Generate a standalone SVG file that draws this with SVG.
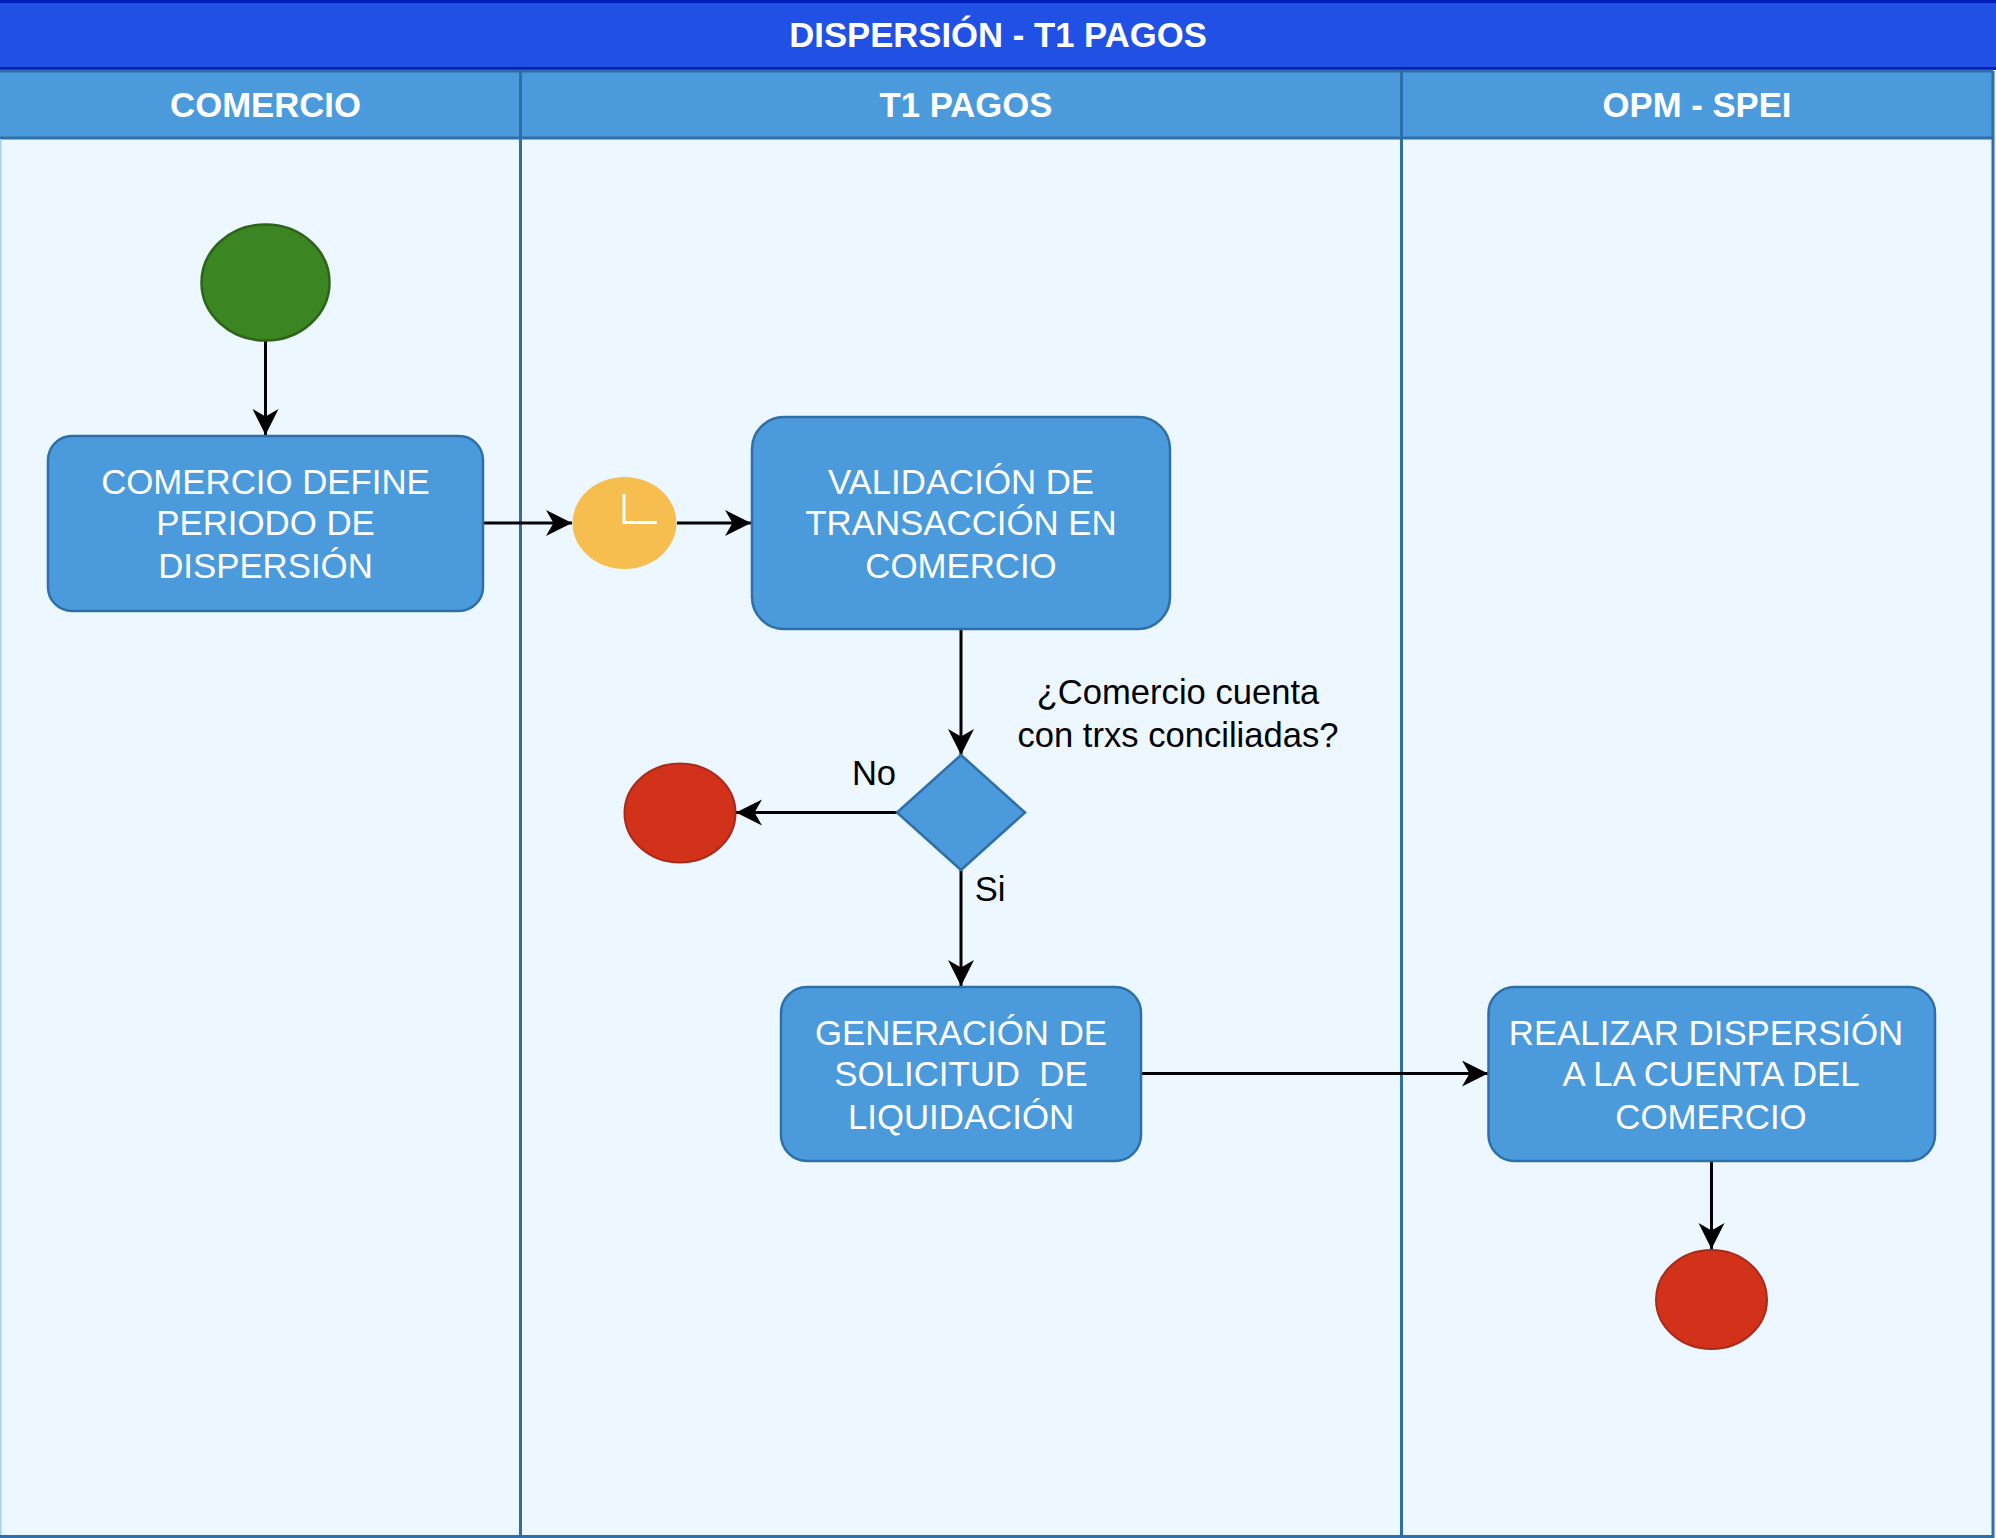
<svg xmlns="http://www.w3.org/2000/svg" width="1996" height="1538" viewBox="0 0 1996 1538">
<style>
text{font-family:"Liberation Sans",Arial,sans-serif;text-anchor:middle}
.head{font-size:34.7px;font-weight:bold;fill:#fff}
.node{font-size:34.8px;fill:#fff}
.lab{font-size:34.6px;fill:#000}
.box{fill:#4b9bdc;stroke:#2f6fa8;stroke-width:2.500}
.lane{fill:none;stroke:#2f6fa8;stroke-width:3}
.con{fill:none;stroke:#000;stroke-width:3;marker-end:url(#arr)}
</style>
<defs>
<marker id="arr" markerUnits="userSpaceOnUse" markerWidth="30" markerHeight="30" refX="26" refY="13" orient="auto">
<path d="M0 0L26 13L0 26L7.500 13Z" fill="#000"/>
</marker>
</defs>
<rect width="1996" height="1538" fill="#ecf7ff"/>
<g id="pool">
<rect x="-3" y="1.500" width="2002" height="67" fill="#2050e4" stroke="#001dbc" stroke-width="3"/>
<text class="head" x="998" y="47">DISPERSIÓN - T1 PAGOS</text>
</g>
<g id="lanes">
<rect x="0" y="71" width="1993" height="67" fill="#4b9bdc"/>
<path class="lane" d="M0 71H1993M0 138H1993M520.500 71V1538M1401.500 71V1538M1993 71V1538M0 1536.500H1993"/>
<path d="M0.750 139V1535" fill="none" stroke="#a3d0f2" stroke-width="1.500"/>
<text class="head" x="265.500" y="117">COMERCIO</text>
<text class="head" x="966" y="117">T1 PAGOS</text>
<text class="head" x="1697" y="117">OPM - SPEI</text>
</g>
<g id="connectors">
<path class="con" d="M265.500 341V435"/>
<path class="con" d="M483 523H572"/>
<path class="con" d="M677 523H751"/>
<path class="con" d="M961 629V755"/>
<path class="con" d="M897 812.500H736"/>
<path class="con" d="M961 870V986"/>
<path class="con" d="M1141 1073.500H1488"/>
<path class="con" d="M1711.500 1161V1249"/>
</g>
<g id="start"><ellipse cx="265.500" cy="282.500" rx="64" ry="58" fill="#3c8523" stroke="#2d6419" stroke-width="2.500"/></g>
<g id="define">
<rect class="box" x="48" y="436" width="435" height="175" rx="24"/>
<text class="node" x="265.500" y="494">COMERCIO DEFINE</text>
<text class="node" x="265.500" y="535">PERIODO DE</text>
<text class="node" x="265.500" y="578">DISPERSIÓN</text>
</g>
<g id="timer">
<ellipse cx="624.500" cy="523" rx="52" ry="46" fill="#f6be4f"/>
<path d="M624 494V522.500H657" fill="none" stroke="#fff" stroke-width="3"/>
</g>
<g id="validacion">
<rect class="box" x="752" y="417" width="418" height="212" rx="32"/>
<text class="node" x="961" y="494">VALIDACIÓN DE</text>
<text class="node" x="961" y="535">TRANSACCIÓN EN</text>
<text class="node" x="961" y="578">COMERCIO</text>
</g>
<g id="decision">
<path class="box" d="M961 755L1025 812.500L961 870L897 812.500Z"/>
</g>
<g id="end1"><ellipse cx="680" cy="813" rx="55.500" ry="49.500" fill="#d2311a" stroke="#a92a1a" stroke-width="2"/></g>
<g id="generacion">
<rect class="box" x="781" y="987" width="360" height="174" rx="26"/>
<text class="node" x="961" y="1045">GENERACIÓN DE</text>
<text class="node" x="961" y="1086" xml:space="preserve">SOLICITUD  DE</text>
<text class="node" x="961" y="1129">LIQUIDACIÓN</text>
</g>
<g id="realizar">
<rect class="box" x="1488.500" y="987" width="446.500" height="174" rx="26"/>
<text class="node" x="1706" y="1045">REALIZAR DISPERSIÓN</text>
<text class="node" x="1711" y="1086">A LA CUENTA DEL</text>
<text class="node" x="1711" y="1129">COMERCIO</text>
</g>
<g id="end2"><ellipse cx="1711.500" cy="1299.500" rx="55.500" ry="49.500" fill="#d2311a" stroke="#a92a1a" stroke-width="2"/></g>
<g id="labels">
<text class="lab" x="1178" y="704">¿Comercio cuenta</text>
<text class="lab" x="1178" y="747">con trxs conciliadas?</text>
<text class="lab" x="874" y="784.500">No</text>
<text class="lab" x="990" y="900.500">Si</text>
</g>
</svg>
